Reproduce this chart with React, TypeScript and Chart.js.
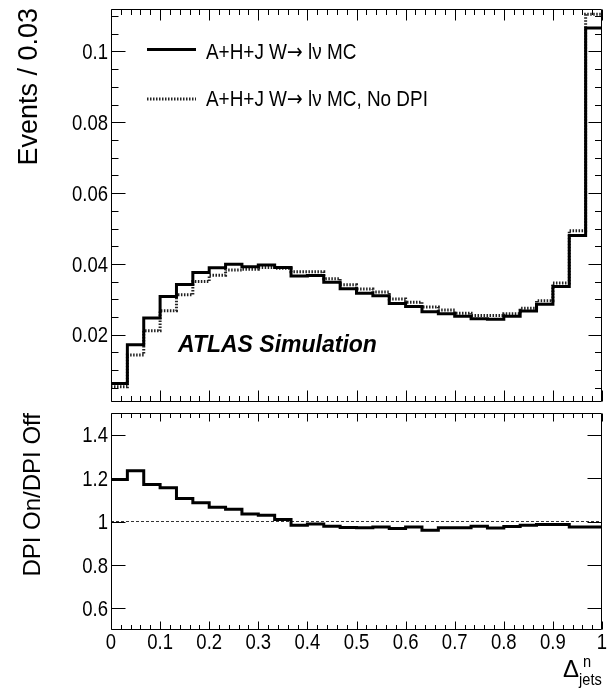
import React, { useEffect, useRef } from "react";
import { Chart, registerables } from "chart.js";

Chart.register(...registerables);

// ---------------- data ----------------
const binCount = 30;
const binEdges = Array.from({ length: binCount + 1 }, (_, i) => i / binCount);

const eventsDpiOn = [
  0.0062, 0.0172, 0.0247, 0.0308, 0.0342, 0.0376, 0.0389, 0.0399, 0.0392, 0.0397,
  0.039, 0.0366, 0.0367, 0.0348, 0.033, 0.0317, 0.031, 0.0288, 0.028, 0.0265,
  0.0259, 0.0252, 0.0245, 0.0244, 0.0252, 0.0267, 0.0286, 0.0336, 0.048, 0.1066,
];
const eventsNoDpi = [
  0.0053, 0.0143, 0.0211, 0.0268, 0.0313, 0.035, 0.0368, 0.0383, 0.0385, 0.039,
  0.0388, 0.0378, 0.0378, 0.0358, 0.0341, 0.0329, 0.0321, 0.0301, 0.0292, 0.0278,
  0.027, 0.0261, 0.0254, 0.0254, 0.0259, 0.0275, 0.0296, 0.0346, 0.0494, 0.1105,
];
const ratioOnOff = [
  1.194, 1.234, 1.171, 1.156, 1.106, 1.086, 1.066, 1.057, 1.034, 1.029,
  1.009, 0.983, 0.988, 0.978, 0.972, 0.971, 0.975, 0.968, 0.975, 0.96,
  0.971, 0.971, 0.978, 0.97, 0.977, 0.983, 0.986, 0.986, 0.975, 0.975,
];
const refLineX = [0, 1];
const refLineY = [1, 1];

const xTicks = [0, 0.1, 0.2, 0.3, 0.4, 0.5, 0.6, 0.7, 0.8, 0.9, 1];
const xTickLabels = ["0", "0.1", "0.2", "0.3", "0.4", "0.5", "0.6", "0.7", "0.8", "0.9", "1"];
const yTicksTop = [0.02, 0.04, 0.06, 0.08, 0.1];
const yTickLabelsTop = ["0.02", "0.04", "0.06", "0.08", "0.1"];
const yTicksRatio = [0.6, 0.8, 1, 1.2, 1.4];
const yTickLabelsRatio = ["0.6", "0.8", "1", "1.2", "1.4"];

const labelOnParts = ["A+H+J W", "\u2192", " l\u03BD MC"];
const labelOffParts = ["A+H+J W", "\u2192", " l\u03BD MC, No DPI"];
const labelOn = labelOnParts.join("");
const labelOff = labelOffParts.join("");
const yTitleTop = "Events / 0.03";
const yTitleRatio = "DPI On/DPI Off";
const atlasLabel = "ATLAS Simulation";

// ---------------- style ----------------
const FONT_REG = "'Liberation Sans', Arial, Helvetica, sans-serif";
const FONT_ARROW = "'DejaVu Sans', 'Liberation Sans', sans-serif";
const SQUEEZE = 0.86;
const TICK_FONT = `21.5px ${FONT_REG}`;

function stepPoints(xs: number[], values: number[]) {
  const pts = values.map((v, i) => ({ x: xs[i], y: v }));
  pts.push({ x: xs[values.length], y: values[values.length - 1] });
  return pts;
}

function drawText(
  ctx: CanvasRenderingContext2D,
  text: string,
  x: number,
  y: number,
  font: string,
  align: CanvasTextAlign = "left",
  sx = SQUEEZE
) {
  ctx.save();
  ctx.translate(x, y);
  ctx.scale(sx, 1);
  ctx.font = font;
  ctx.textAlign = align;
  ctx.textBaseline = "alphabetic";
  ctx.fillStyle = "#000";
  ctx.fillText(text, 0, 0);
  const w = ctx.measureText(text).width * sx;
  ctx.restore();
  return w;
}

function drawParts(ctx: CanvasRenderingContext2D, parts: string[], fonts: string[], x: number, y: number) {
  let cx = x;
  parts.forEach((p, i) => {
    cx += drawText(ctx, p, cx, y, fonts[i], "left");
  });
}

type TickCfg = {
  xMinorStep: number;
  xMajorLen: number;
  xMinorLen: number;
  yMinorStep: number | null;
  yMajorLenL: number;
  yMinorLenL: number;
  yMajorLenR: number;
  yMinorLenR: number;
  yMajorTicks: number[];
  yLabels: string[];
  xLabelBaseline: number | null;
};

function makeFramePlugin(cfg: TickCfg, extra: (chart: any) => void) {
  return {
    id: "rootFrame",
    afterDatasetsDraw(chart: any) {
      const { ctx, chartArea: a, scales } = chart;
      const xs = scales.x;
      const ys = scales.y;
      ctx.save();
      ctx.strokeStyle = "#000";
      ctx.lineWidth = 1;
      ctx.setLineDash([]);
      ctx.beginPath();
      const L = Math.round(a.left) + 0.5;
      const R = Math.round(a.right) - 0.5;
      const T = Math.round(a.top) + 0.5;
      const B = Math.round(a.bottom) - 0.5;
      ctx.rect(L, T, R - L, B - T);
      const nMinorX = Math.round((xs.max - xs.min) / cfg.xMinorStep);
      for (let i = 0; i <= nMinorX; i++) {
        const v = xs.min + i * cfg.xMinorStep;
        const isMajor = xTicks.some((t) => Math.abs(t - v) < 1e-6);
        const len = isMajor ? cfg.xMajorLen : cfg.xMinorLen;
        const px = Math.round(xs.getPixelForValue(v)) + 0.5;
        ctx.moveTo(px, B);
        ctx.lineTo(px, B - len);
        ctx.moveTo(px, T);
        ctx.lineTo(px, T + len);
      }
      const drawY = (v: number, major: boolean) => {
        const py = Math.round(ys.getPixelForValue(v)) + 0.5;
        const ll = major ? cfg.yMajorLenL : cfg.yMinorLenL;
        const lr = major ? cfg.yMajorLenR : cfg.yMinorLenR;
        ctx.moveTo(L, py);
        ctx.lineTo(L + ll, py);
        ctx.moveTo(R, py);
        ctx.lineTo(R - lr, py);
      };
      if (cfg.yMinorStep) {
        const start = Math.ceil(ys.min / cfg.yMinorStep - 1e-9);
        const end = Math.floor(ys.max / cfg.yMinorStep + 1e-9);
        for (let k = start; k <= end; k++) {
          const v = k * cfg.yMinorStep;
          const isMajor = cfg.yMajorTicks.some((t) => Math.abs(t - v) < 1e-9);
          drawY(v, isMajor);
        }
      } else {
        cfg.yMajorTicks.forEach((v) => drawY(v, true));
      }
      ctx.stroke();
      ctx.restore();

      // tick labels from the library's scales
      ys.ticks.forEach((t: any, i: number) => {
        const py = ys.getPixelForValue(t.value);
        drawText(ctx, cfg.yLabels[i], a.left - 3, py + 7.7, TICK_FONT, "right");
      });
      if (cfg.xLabelBaseline !== null) {
        xs.ticks.forEach((t: any, i: number) => {
          const px = xs.getPixelForValue(t.value);
          drawText(ctx, xTickLabels[i], px, a.bottom + (cfg.xLabelBaseline as number), TICK_FONT, "center");
        });
      }
    },
    afterDraw(chart: any) {
      extra(chart);
    },
  };
}

function drawRotated(ctx: CanvasRenderingContext2D, text: string, x: number, yTop: number, font: string) {
  ctx.save();
  ctx.translate(x, yTop);
  ctx.rotate(-Math.PI / 2);
  ctx.font = font;
  ctx.textAlign = "right";
  ctx.textBaseline = "alphabetic";
  ctx.fillStyle = "#000";
  ctx.fillText(text, 0, 0);
  ctx.restore();
}

export default function App() {
  const topRef = useRef<HTMLCanvasElement>(null);
  const botRef = useRef<HTMLCanvasElement>(null);

  useEffect(() => {
    const legendFonts = [`22px ${FONT_REG}`, `22px ${FONT_ARROW}`, `22px ${FONT_REG}`];
    const topPlugin = makeFramePlugin(
      {
        xMinorStep: 0.02,
        xMajorLen: 11,
        xMinorLen: 5.5,
        yMinorStep: 0.005,
        yMajorLenL: 14,
        yMinorLenL: 7,
        yMajorLenR: 13,
        yMinorLenR: 6.5,
        yMajorTicks: yTicksTop,
        yLabels: yTickLabelsTop,
        xLabelBaseline: null,
      },
      (chart: any) => {
        const ctx = chart.ctx as CanvasRenderingContext2D;
        ctx.save();
        ctx.strokeStyle = "#000";
        ctx.lineWidth = 3;
        ctx.setLineDash([]);
        ctx.beginPath();
        ctx.moveTo(147, 49.5);
        ctx.lineTo(196, 49.5);
        ctx.stroke();
        ctx.strokeStyle = "#222";
        ctx.lineWidth = 3;
        ctx.setLineDash([1.5, 1.5]);
        ctx.beginPath();
        ctx.moveTo(147, 99);
        ctx.lineTo(196, 99);
        ctx.stroke();
        ctx.restore();
        drawParts(ctx, labelOnParts, legendFonts, 206, 59);
        drawParts(ctx, labelOffParts, legendFonts, 206, 106);
        drawText(ctx, atlasLabel, 178, 352, `italic bold 23px ${FONT_REG}`, "left", 1);
        drawRotated(ctx, yTitleTop, 37, 8, `27px ${FONT_REG}`);
      }
    );

    const botPlugin = makeFramePlugin(
      {
        xMinorStep: 0.02,
        xMajorLen: 8,
        xMinorLen: 4.5,
        yMinorStep: null,
        yMajorLenL: 14,
        yMinorLenL: 7,
        yMajorLenR: 14,
        yMinorLenR: 7,
        yMajorTicks: yTicksRatio,
        yLabels: yTickLabelsRatio,
        xLabelBaseline: 19,
      },
      (chart: any) => {
        const ctx = chart.ctx as CanvasRenderingContext2D;
        drawRotated(ctx, yTitleRatio, 40, 7, `24px ${FONT_REG}`);
        drawText(ctx, "\u0394", 563, 271, `24px ${FONT_REG}`, "left", 1);
        drawText(ctx, "n", 583, 261, `17px ${FONT_REG}`, "left");
        drawText(ctx, "jets", 579, 279, `17px ${FONT_REG}`, "left");
      }
    );

    const commonY = (ticks: number[], min: number, max: number) => ({
      type: "linear" as const,
      min,
      max,
      grid: { display: false, drawTicks: false },
      border: { display: false },
      afterBuildTicks: (scale: any) => {
        scale.ticks = ticks.map((value) => ({ value }));
      },
      afterFit: (scale: any) => {
        scale.width = 111;
        scale.paddingTop = 0;
        scale.paddingBottom = 0;
      },
      ticks: { display: false },
    });

    const topChart = new Chart(topRef.current!, {
      type: "line",
      data: {
        datasets: [
          {
            label: labelOn,
            data: stepPoints(binEdges, eventsDpiOn),
            stepped: true,
            borderColor: "#000",
            borderWidth: 3,
            pointRadius: 0,
            fill: false,
          },
          {
            label: labelOff,
            data: stepPoints(binEdges, eventsNoDpi),
            stepped: true,
            borderColor: "#222",
            borderWidth: 3,
            borderDash: [1.5, 1.5],
            pointRadius: 0,
            fill: false,
          },
        ],
      },
      options: {
        animation: false,
        responsive: false,
        devicePixelRatio: 1,
        layout: { padding: { left: 0, right: 14, top: 9, bottom: 4 } },
        plugins: { legend: { display: false }, tooltip: { enabled: false } },
        scales: {
          x: { type: "linear", min: 0, max: 1, display: false },
          y: commonY(yTicksTop, 0.001, 0.112),
        },
      },
      plugins: [topPlugin],
    } as any);

    const botChart = new Chart(botRef.current!, {
      type: "line",
      data: {
        datasets: [
          {
            label: "DPI On/DPI Off",
            data: stepPoints(binEdges, ratioOnOff),
            stepped: true,
            borderColor: "#000",
            borderWidth: 3,
            pointRadius: 0,
            fill: false,
          },
          {
            label: "unity",
            data: refLineX.map((x, i) => ({ x, y: refLineY[i] })),
            borderColor: "#333",
            borderWidth: 1,
            borderDash: [3, 2],
            pointRadius: 0,
            fill: false,
          },
        ],
      },
      options: {
        animation: false,
        responsive: false,
        devicePixelRatio: 1,
        layout: { padding: { left: 0, right: 14, top: 7, bottom: 0 } },
        plugins: { legend: { display: false }, tooltip: { enabled: false } },
        scales: {
          x: {
            type: "linear",
            min: 0,
            max: 1,
            grid: { display: false, drawTicks: false },
            border: { display: false },
            afterBuildTicks: (scale: any) => {
              scale.ticks = xTicks.map((value) => ({ value }));
            },
            afterFit: (scale: any) => {
              scale.height = 58;
              scale.paddingLeft = 0;
              scale.paddingRight = 0;
            },
            ticks: { display: false },
          },
          y: commonY(yTicksRatio, 0.5, 1.5),
        },
      },
      plugins: [botPlugin],
    } as any);

    return () => {
      topChart.destroy();
      botChart.destroy();
    };
  }, []);

  return (
    <div style={{ position: "fixed", left: 0, top: 0, width: 616, height: 688, background: "#fff" }}>
      <canvas
        ref={topRef}
        width={616}
        height={406}
        style={{ position: "absolute", left: 0, top: 0, width: 616, height: 406 }}
      />
      <canvas
        ref={botRef}
        width={616}
        height={282}
        style={{ position: "absolute", left: 0, top: 406, width: 616, height: 282 }}
      />
    </div>
  );
}
